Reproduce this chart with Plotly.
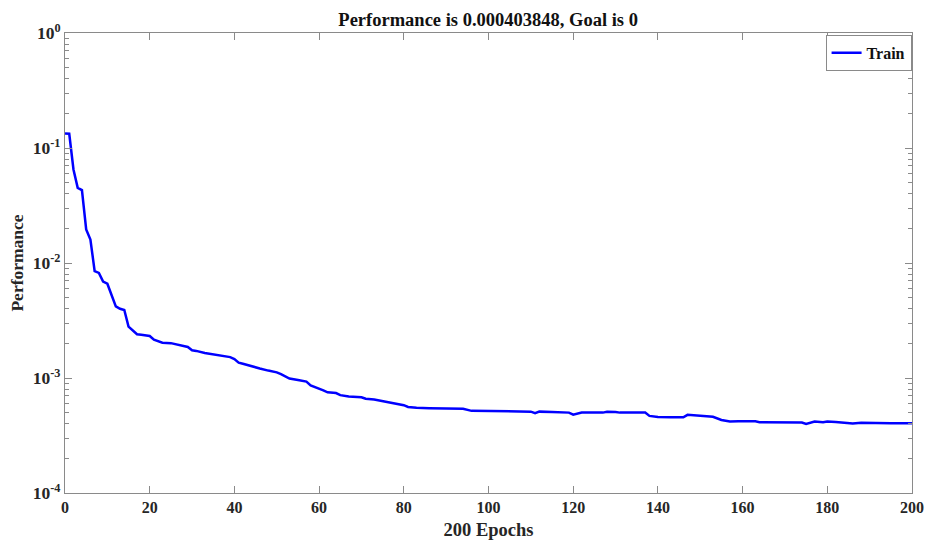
import plotly.graph_objects as go

epochs = [0,1,2,3,4,5,6,7,8,9,10,11,12,13,14,15,16,17,18,19,20,21,22,23,25,27,29,30,31,33,35,37,39,40,41,42,44,46,48,50,51,53,55,57,58,60,61,62,64,65,67,70,71,73,75,77,78,80,81,83,86,90,94,96,100,105,110,111,112,115,119,120,122,127,128,130,131,134,137,138,140,143,146,147,150,152,153,155,157,159,161,163,164,167,170,174,175,177,179,180,182,184,186,188,190,195,200]
performance = [0.134,0.133,0.065,0.045,0.043,0.0196,0.016,0.0085,0.0082,0.0069,0.0066,0.0052,0.0042,0.0040,0.0039,0.0028,0.0026,0.0024,0.00238,0.00235,0.00232,0.00215,0.00208,0.00203,0.00201,0.00194,0.00186,0.00174,0.00172,0.00165,0.00160,0.00155,0.00152,0.00146,0.00136,0.00133,0.00126,0.00121,0.00116,0.00112,0.00108,0.00099,0.00096,0.00093,0.00086,0.00081,0.00078,0.00075,0.00074,0.00071,0.00069,0.00068,0.00066,0.00065,0.00063,0.00061,0.00060,0.00058,0.00056,0.00055,0.000545,0.00054,0.00054,0.000518,0.000515,0.000515,0.00051,0.000495,0.00051,0.000505,0.0005,0.00048,0.000502,0.0005,0.000508,0.000506,0.0005,0.0005,0.0005,0.000468,0.000458,0.000455,0.000455,0.000478,0.000472,0.000468,0.00046,0.000432,0.000418,0.00042,0.000422,0.00042,0.000413,0.000413,0.000411,0.00041,0.000398,0.000418,0.000412,0.000418,0.000414,0.00041,0.000402,0.000408,0.000406,0.000405,0.000404]

x_ticks = [0, 20, 40, 60, 80, 100, 120, 140, 160, 180, 200]
y_tickvals = [1e-4, 1e-3, 1e-2, 1e-1, 1]
y_ticktext = ["10<sup>-4</sup>", "10<sup>-3</sup>", "10<sup>-2</sup>", "10<sup>-1</sup>", "10<sup>0</sup>"]
y_minor = [m * d for d in [1e-4, 1e-3, 1e-2, 1e-1] for m in range(2, 10)]

FONT = "Liberation Serif"
AX = "#8a8a8a"
TXT = "#262626"

fig = go.Figure()
fig.add_trace(go.Scatter(
    x=epochs, y=performance, mode="lines", name="<b>Train</b>",
    line=dict(color="#0000ff", width=2.5),
))

fig.update_layout(
    width=928, height=542,
    margin=dict(l=65, r=16, t=33, b=49),
    paper_bgcolor="white", plot_bgcolor="white",
    font=dict(family=FONT, color=TXT, size=16),
    title=dict(text="<b>Performance is 0.000403848, Goal is 0</b>",
               x=0.526, xanchor="center", y=1 - 20 / 542, yanchor="middle",
               font=dict(family=FONT, size=18.5, color="#111111")),
    showlegend=True,
    legend=dict(x=0.9995, y=0.996, xanchor="right", yanchor="top",
                bgcolor="white", bordercolor=AX, borderwidth=1,
                font=dict(family=FONT, size=16, color="#111111"),
                itemwidth=30, tracegroupgap=0),
)

fig.update_xaxes(
    range=[0, 200], tickvals=x_ticks, ticktext=["<b>%d</b>" % v for v in x_ticks],
    showgrid=False, zeroline=False, automargin=False,
    showline=True, linecolor=AX, linewidth=1, mirror="ticks",
    ticks="inside", ticklen=7, tickcolor=AX,
    tickfont=dict(family=FONT, size=16, color=TXT),
    title=dict(text="<b>200 Epochs</b>", font=dict(family=FONT, size=18.5, color=TXT), standoff=7),
)

fig.update_yaxes(
    type="log", range=[-4, 0],
    tickvals=y_tickvals, ticktext=["<b>%s</b>" % t for t in y_ticktext],
    showgrid=False, zeroline=False, automargin=False,
    showline=True, linecolor=AX, linewidth=1, mirror="ticks",
    ticks="inside", ticklen=7, tickcolor=AX,
    tickfont=dict(family=FONT, size=17.5, color=TXT),
    minor=dict(tickvals=y_minor, ticks="inside", ticklen=4, tickcolor=AX, showgrid=False),
    title=dict(text="<b>Performance</b>", font=dict(family=FONT, size=17.5, color=TXT), standoff=4),
)

fig.write_html("out.html")
